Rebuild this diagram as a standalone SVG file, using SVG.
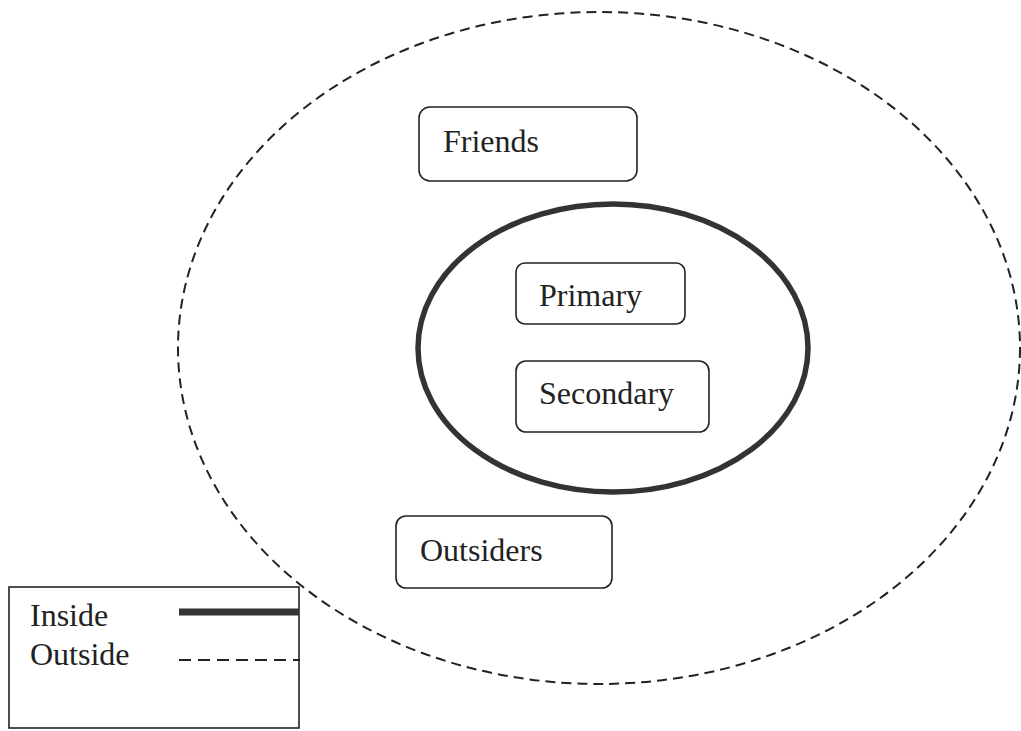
<svg xmlns="http://www.w3.org/2000/svg" width="1021" height="731" viewBox="0 0 1021 731">
<style>
.box{fill:#fff;stroke:#222;stroke-width:1.6}
.t{font-family:"Liberation Serif","Times New Roman",serif;font-size:32px;fill:#222}
</style>
<rect width="1021" height="731" fill="#fff"/>
<g id="outer-ellipse"><ellipse cx="599" cy="348" rx="421" ry="336" fill="none" stroke="#222" stroke-width="2" stroke-dasharray="10 6"/></g>
<g id="inner-ellipse"><ellipse cx="613" cy="348" rx="195" ry="144" fill="none" stroke="#333" stroke-width="5.5"/></g>
<g id="friends"><rect class="box" x="419" y="107" width="218" height="74" rx="11"/><text class="t" x="443" y="152">Friends</text></g>
<g id="primary"><rect class="box" x="516" y="263" width="169" height="61" rx="9"/><text class="t" x="539" y="306">Primary</text></g>
<g id="secondary"><rect class="box" x="516" y="361" width="193" height="71" rx="10"/><text class="t" x="539" y="404">Secondary</text></g>
<g id="outsiders"><rect class="box" x="396" y="516" width="216" height="72" rx="10"/><text class="t" x="420" y="561">Outsiders</text></g>
<g id="legend">
<rect x="9" y="587" width="290" height="141" fill="#fff" stroke="#222" stroke-width="1.6"/>
<text class="t" x="30" y="626">Inside</text>
<text class="t" x="30" y="665">Outside</text>
<line x1="179" y1="612" x2="299" y2="612" stroke="#333" stroke-width="7"/>
<line x1="179" y1="660" x2="300" y2="660" stroke="#222" stroke-width="2" stroke-dasharray="12 7"/>
</g>
<g id="connectors"></g>
</svg>
